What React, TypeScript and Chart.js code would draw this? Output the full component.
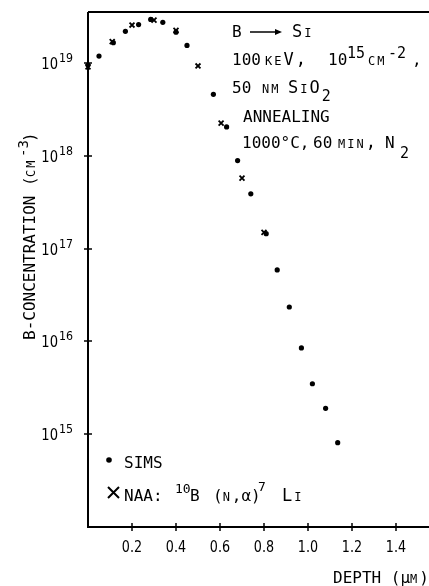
import React, { useEffect, useRef } from "react";
import { Chart, registerables } from "chart.js";

Chart.register(...registerables);

// ---- data ----
const simsDepth = [0, 0.05, 0.115, 0.17, 0.23, 0.285, 0.34, 0.4, 0.45, 0.57, 0.63, 0.68, 0.74, 0.81, 0.86, 0.915, 0.97, 1.02, 1.08, 1.135];
const simsConc = [9.5e18, 1.19e19, 1.66e19, 2.2e19, 2.6e19, 2.95e19, 2.75e19, 2.15e19, 1.55e19, 4.6e18, 2.05e18, 8.9e17, 3.9e17, 1.45e17, 5.9e16, 2.35e16, 8.5e15, 3.5e15, 1.9e15, 8.1e14];
const naaDepth = [0, 0.11, 0.2, 0.3, 0.4, 0.5, 0.605, 0.7, 0.8];
const naaConc = [9.1e18, 1.7e19, 2.57e19, 2.9e19, 2.25e19, 9.3e18, 2.25e18, 5.75e17, 1.5e17];
const xTickValues = [0.2, 0.4, 0.6, 0.8, 1.0, 1.2, 1.4];
const xTickLabels = ["0.2", "0.4", "0.6", "0.8", "1.0", "1.2", "1.4"];
const yTickExponents = [15, 16, 17, 18, 19];

const MONO = "'DejaVu Sans Mono', 'Liberation Mono', monospace";
const SANS = "'DejaVu Sans', 'Liberation Sans', sans-serif";

type Run = { t: string; size?: number; dy?: number; sc?: boolean; x?: number };

function setFont(ctx: CanvasRenderingContext2D, size: number, sc: boolean, fam = MONO) {
  ctx.font = `${sc ? "small-caps " : ""}${size}px ${fam}`;
  try {
    (ctx as any).fontVariantCaps = sc ? "small-caps" : "normal";
    (ctx as any).letterSpacing = sc ? "2px" : "0px";
  } catch (e) {}
}

function drawRuns(ctx: CanvasRenderingContext2D, x: number, y: number, runs: Run[]) {
  let cx = x;
  ctx.textAlign = "left";
  for (const r of runs) {
    if (r.x !== undefined) cx = r.x;
    setFont(ctx, r.size || (r.sc ? 17 : 16), !!r.sc);
    ctx.fillText(r.t, cx, y + (r.dy || 0));
    cx += ctx.measureText(r.t).width;
  }
  setFont(ctx, 16, false);
  return cx;
}

function textSX(ctx: CanvasRenderingContext2D, t: string, x: number, y: number, sx: number, align: CanvasTextAlign) {
  ctx.save();
  ctx.translate(x, y);
  ctx.scale(sx, 1);
  ctx.textAlign = align;
  ctx.fillText(t, 0, 0);
  ctx.restore();
}

const framePlugin = {
  id: "frame",
  afterDatasetsDraw(chart: any) {
    const ctx: CanvasRenderingContext2D = chart.ctx;
    const { left, right, top, bottom } = chart.chartArea;
    const xs = chart.scales.x;
    const ys = chart.scales.y;
    ctx.save();
    ctx.strokeStyle = "#000";
    ctx.fillStyle = "#000";
    ctx.textBaseline = "alphabetic";
    // axes frame
    ctx.lineWidth = 2;
    ctx.beginPath();
    ctx.moveTo(left, top);
    ctx.lineTo(left, bottom);
    ctx.lineTo(right, bottom);
    ctx.moveTo(left, top);
    ctx.lineTo(right, top);
    ctx.stroke();
    // y ticks + labels
    ctx.lineWidth = 1.5;
    for (const e of yTickExponents) {
      const py = Math.round(ys.getPixelForValue(Math.pow(10, e)));
      ctx.beginPath();
      ctx.moveTo(left - 4, py);
      ctx.lineTo(left + 4, py);
      ctx.stroke();
      setFont(ctx, 16, false, SANS);
      textSX(ctx, "10", 58, py + 6, 0.82, "right");
      setFont(ctx, 13, false, SANS);
      textSX(ctx, String(e), 59, py - 1, 0.85, "left");
    }
    // x ticks + labels
    for (let i = 0; i < xTickValues.length; i++) {
      const px = Math.round(xs.getPixelForValue(xTickValues[i]));
      ctx.beginPath();
      ctx.moveTo(px, bottom - 4);
      ctx.lineTo(px, bottom + 4);
      ctx.stroke();
      setFont(ctx, 15, false, SANS);
      textSX(ctx, xTickLabels[i], px, 552, 0.85, "center");
    }
    // x title
    drawRuns(ctx, 333, 583, [
      { t: "DEPTH (" },
      { t: "µ" },
      { t: "m", sc: true },
      { t: ")" },
    ]);
    // y title (rotated)
    ctx.save();
    ctx.translate(35, 340);
    ctx.rotate(-Math.PI / 2);
    drawRuns(ctx, 0, 0, [
      { t: "B-CONCENTRATION (" },
      { t: "cm", sc: true, x: 163 },
      { t: "-3", size: 14, dy: -7, x: 183 },
      { t: ")", x: 198 },
    ]);
    ctx.restore();
    // annotation block
    drawRuns(ctx, 232, 37, [{ t: "B" }, { t: "Si", sc: true, x: 292 }]);
    ctx.lineWidth = 1.5;
    ctx.beginPath();
    ctx.moveTo(250, 32);
    ctx.lineTo(277, 32);
    ctx.stroke();
    ctx.beginPath();
    ctx.moveTo(282, 32);
    ctx.lineTo(275, 29);
    ctx.lineTo(275, 35);
    ctx.closePath();
    ctx.fill();
    drawRuns(ctx, 232, 65, [
      { t: "100" },
      { t: "keV,", sc: true, x: 265 },
      { t: "10", x: 328 },
      { t: "15", size: 15, dy: -7, x: 347 },
      { t: "cm", sc: true, x: 368 },
      { t: "-2", size: 15, dy: -7, x: 388 },
      { t: ",", x: 412 },
    ]);
    drawRuns(ctx, 232, 93, [
      { t: "50" },
      { t: "nm", sc: true, x: 262 },
      { t: "SiO", sc: true, x: 288 },
      { t: "2", size: 15, dy: 8 },
    ]);
    drawRuns(ctx, 243, 122, [{ t: "ANNEALING" }]);
    drawRuns(ctx, 242, 148, [
      { t: "1000°C," },
      { t: "60", x: 313 },
      { t: "min,", sc: true, x: 338 },
      { t: "N", x: 385 },
      { t: "2", size: 15, dy: 10, x: 400 },
    ]);
    // legend
    ctx.beginPath();
    ctx.arc(109, 460, 2.8, 0, Math.PI * 2);
    ctx.fill();
    drawRuns(ctx, 124, 468, [{ t: "SIMS" }]);
    ctx.lineWidth = 2;
    ctx.beginPath();
    ctx.moveTo(108, 487);
    ctx.lineTo(119, 498);
    ctx.moveTo(119, 487);
    ctx.lineTo(108, 498);
    ctx.stroke();
    drawRuns(ctx, 124, 501, [
      { t: "NAA:" },
      { t: "10", size: 13, dy: -8, x: 175 },
      { t: "B", x: 190 },
      { t: "(", x: 213 },
      { t: "n", sc: true },
      { t: "," },
      { t: "α" },
      { t: ")" },
      { t: "7", size: 13, dy: -10, x: 258 },
      { t: "Li", sc: true, x: 282 },
    ]);
    ctx.restore();
  },
};

export default function App() {
  const ref = useRef<HTMLCanvasElement>(null);
  useEffect(() => {
    if (!ref.current) return;
    const chart = new Chart(ref.current, {
      type: "scatter",
      data: {
        datasets: [
          {
            label: "SIMS",
            data: simsDepth.map((d, i) => ({ x: d, y: simsConc[i] })),
            pointStyle: "circle",
            pointRadius: 2.6,
            backgroundColor: "#000",
            borderColor: "#000",
            borderWidth: 0,
            clip: false,
          } as any,
          {
            label: "NAA",
            data: naaDepth.map((d, i) => ({ x: d, y: naaConc[i] })),
            pointStyle: "crossRot",
            pointRadius: 3.5,
            backgroundColor: "#000",
            borderColor: "#000",
            borderWidth: 1.8,
            clip: false,
          } as any,
        ],
      },
      options: {
        responsive: false,
        maintainAspectRatio: false,
        animation: false,
        layout: { autoPadding: false, padding: { left: 88, right: 0, top: 12, bottom: 59 } },
        plugins: { legend: { display: false }, tooltip: { enabled: false } },
        scales: {
          x: { type: "linear", min: 0, max: 1.55, display: false },
          y: { type: "logarithmic", min: 1e14, max: 3.55e19, display: false },
        },
      },
      plugins: [framePlugin],
    });
    return () => chart.destroy();
  }, []);
  return (
    <div style={{ position: "fixed", left: 0, top: 0, width: 429, height: 586, background: "#fff" }}>
      <canvas ref={ref} width={429} height={586} style={{ width: 429, height: 586, display: "block" }} />
    </div>
  );
}
